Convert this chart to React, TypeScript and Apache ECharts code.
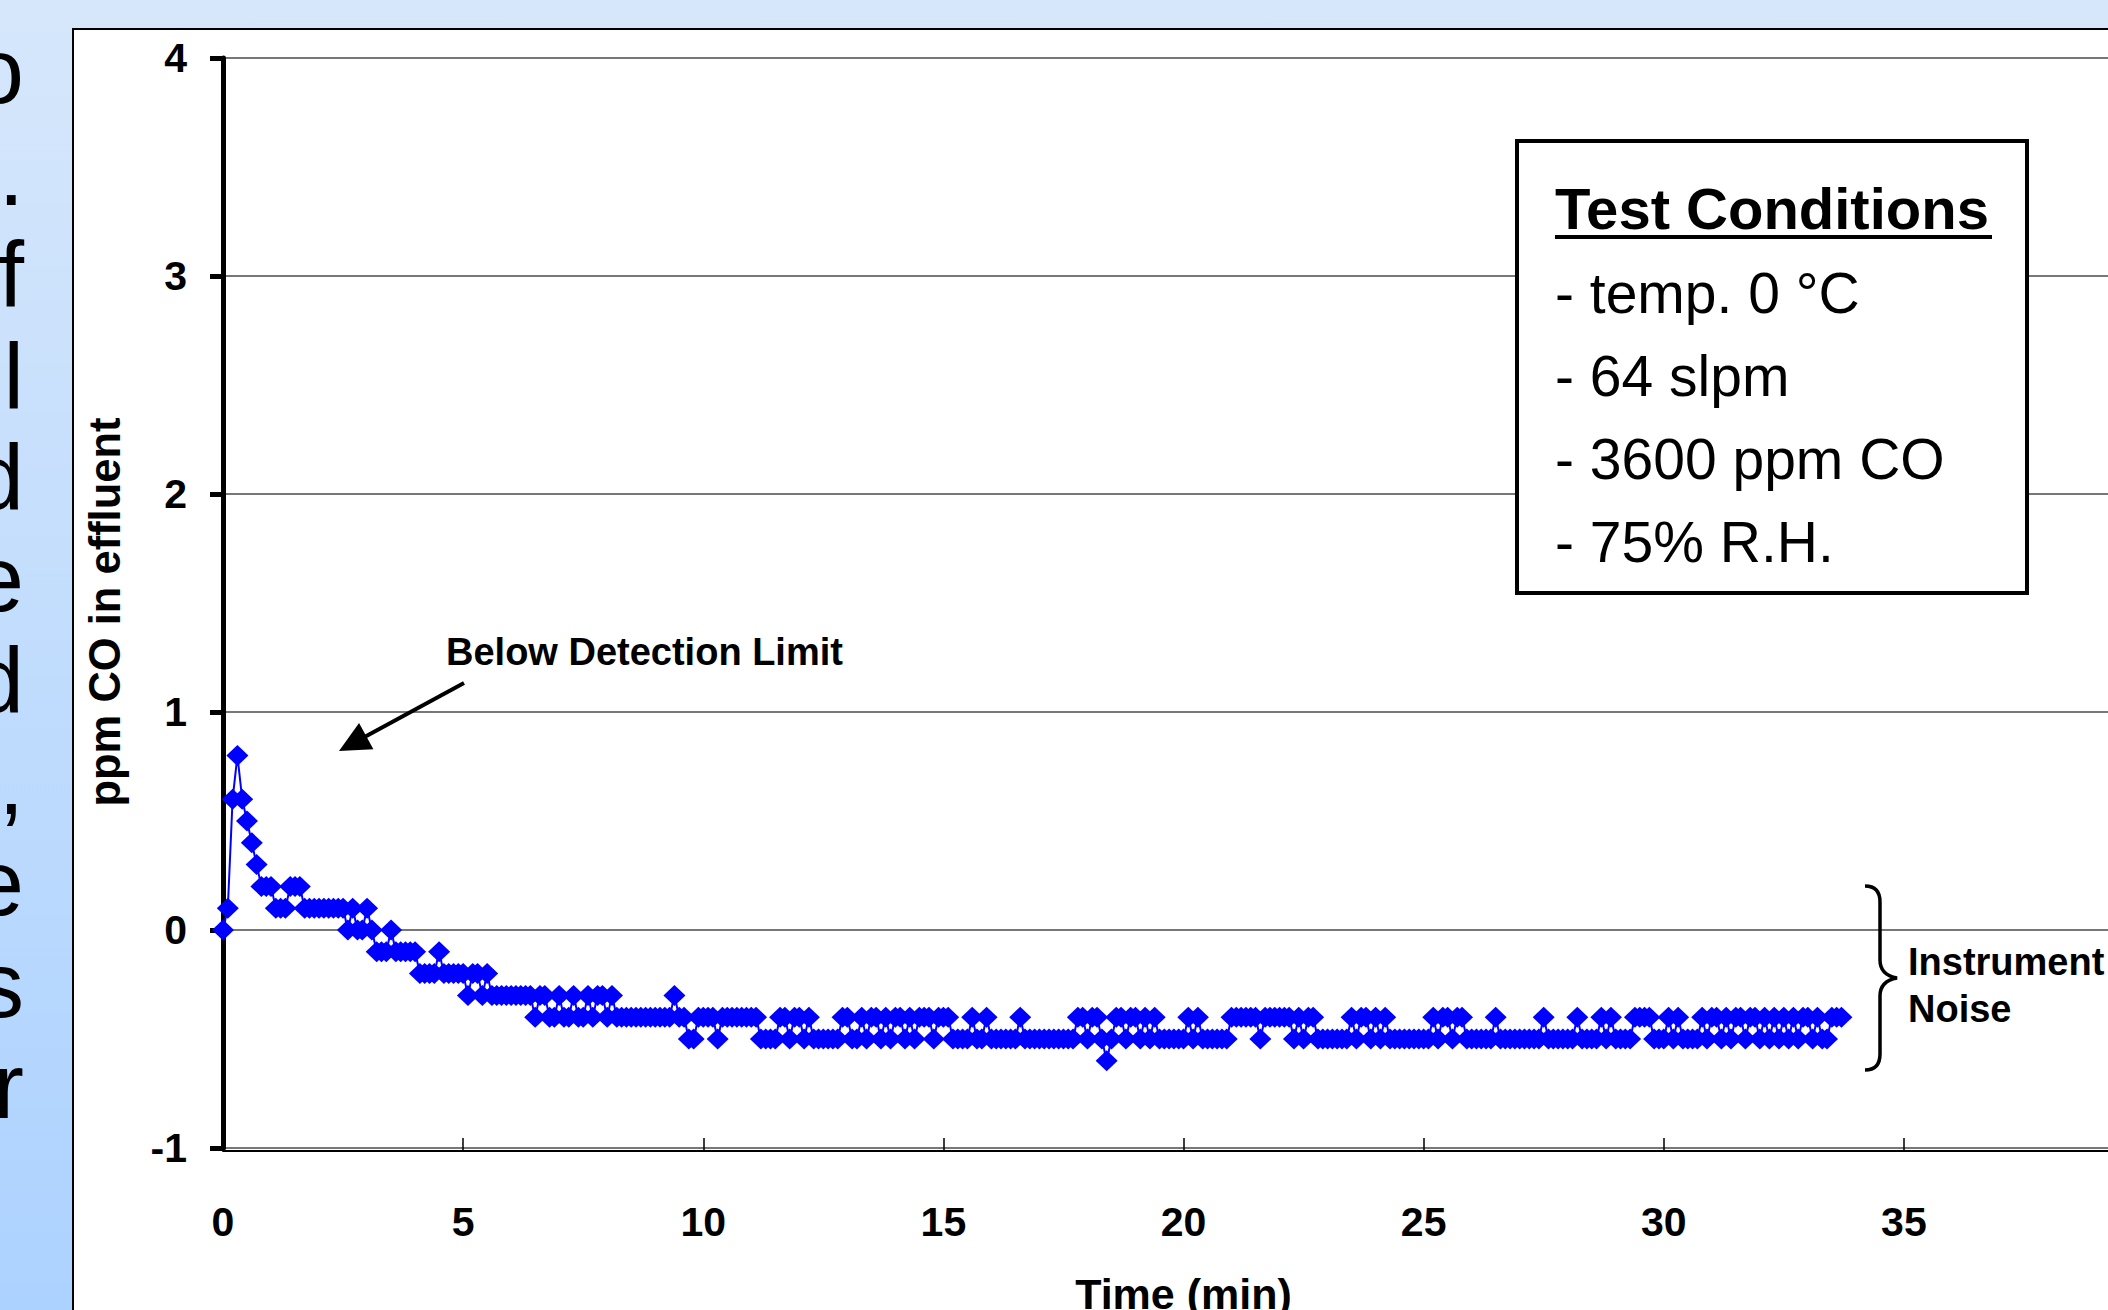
import React, { useEffect, useRef } from "react";
import * as echarts from "echarts";

// ---- data ----
const SAMPLE_INTERVAL_MIN = 0.1;
const ppmCO: number[] = [
  0, 0.1, 0.6, 0.8, 0.6, 0.5, 0.4, 0.3, 0.2, 0.2,
  0.2, 0.1, 0.1, 0.1, 0.2, 0.2, 0.2, 0.1, 0.1, 0.1,
  0.1, 0.1, 0.1, 0.1, 0.1, 0.1, 0, 0.1, 0, 0,
  0.1, 0, -0.1, -0.1, -0.1, 0, -0.1, -0.1, -0.1, -0.1,
  -0.1, -0.2, -0.2, -0.2, -0.2, -0.1, -0.2, -0.2, -0.2, -0.2,
  -0.2, -0.3, -0.2, -0.2, -0.3, -0.2, -0.3, -0.3, -0.3, -0.3,
  -0.3, -0.3, -0.3, -0.3, -0.3, -0.4, -0.3, -0.3, -0.4, -0.4,
  -0.3, -0.4, -0.4, -0.3, -0.4, -0.4, -0.3, -0.4, -0.3, -0.3,
  -0.4, -0.3, -0.4, -0.4, -0.4, -0.4, -0.4, -0.4, -0.4, -0.4,
  -0.4, -0.4, -0.4, -0.4, -0.3, -0.4, -0.4, -0.5, -0.5, -0.4,
  -0.4, -0.4, -0.4, -0.5, -0.4, -0.4, -0.4, -0.4, -0.4, -0.4,
  -0.4, -0.4, -0.5, -0.5, -0.5, -0.5, -0.4, -0.4, -0.5, -0.4,
  -0.4, -0.5, -0.4, -0.5, -0.5, -0.5, -0.5, -0.5, -0.5, -0.4,
  -0.4, -0.5, -0.5, -0.4, -0.5, -0.4, -0.4, -0.5, -0.4, -0.5,
  -0.4, -0.4, -0.5, -0.4, -0.5, -0.4, -0.4, -0.4, -0.5, -0.4,
  -0.4, -0.4, -0.5, -0.5, -0.5, -0.5, -0.4, -0.5, -0.5, -0.4,
  -0.5, -0.5, -0.5, -0.5, -0.5, -0.5, -0.4, -0.5, -0.5, -0.5,
  -0.5, -0.5, -0.5, -0.5, -0.5, -0.5, -0.5, -0.5, -0.4, -0.4,
  -0.5, -0.4, -0.4, -0.5, -0.6, -0.5, -0.4, -0.4, -0.5, -0.4,
  -0.4, -0.5, -0.4, -0.5, -0.4, -0.5, -0.5, -0.5, -0.5, -0.5,
  -0.5, -0.4, -0.5, -0.4, -0.5, -0.5, -0.5, -0.5, -0.5, -0.5,
  -0.4, -0.4, -0.4, -0.4, -0.4, -0.4, -0.5, -0.4, -0.4, -0.4,
  -0.4, -0.4, -0.4, -0.5, -0.4, -0.5, -0.4, -0.4, -0.5, -0.5,
  -0.5, -0.5, -0.5, -0.5, -0.5, -0.4, -0.5, -0.4, -0.4, -0.5,
  -0.4, -0.5, -0.4, -0.5, -0.5, -0.5, -0.5, -0.5, -0.5, -0.5,
  -0.5, -0.5, -0.4, -0.5, -0.4, -0.4, -0.5, -0.4, -0.4, -0.5,
  -0.5, -0.5, -0.5, -0.5, -0.5, -0.4, -0.5, -0.5, -0.5, -0.5,
  -0.5, -0.5, -0.5, -0.5, -0.5, -0.4, -0.5, -0.5, -0.5, -0.5,
  -0.5, -0.5, -0.4, -0.5, -0.5, -0.5, -0.5, -0.4, -0.5, -0.4,
  -0.5, -0.5, -0.5, -0.5, -0.4, -0.4, -0.4, -0.4, -0.5, -0.5,
  -0.5, -0.4, -0.5, -0.4, -0.5, -0.5, -0.5, -0.5, -0.4, -0.5,
  -0.4, -0.4, -0.5, -0.4, -0.5, -0.4, -0.4, -0.5, -0.4, -0.4,
  -0.5, -0.4, -0.5, -0.4, -0.5, -0.4, -0.5, -0.4, -0.5, -0.4,
  -0.4, -0.5, -0.4, -0.5, -0.5, -0.4, -0.4, -0.4,
];

const X_MIN = 0;
const X_MAX = 40;
const X_STEP = 5;
const Y_MIN = -1;
const Y_MAX = 4;
const Y_STEP = 1;

const xAxisTitle = "Time (min)";
const yAxisTitle = "ppm CO in effluent";
const arrowLabel = "Below Detection Limit";
const noiseLabel = ["Instrument", "Noise"];
const testConditionsTitle = "Test Conditions";
const testConditions = ["- temp. 0 °C", "- 64 slpm", "- 3600 ppm CO", "- 75% R.H."];
const slideLetters = ["o", ".", "f", "l", "d", "e", "d", ",", "e", "s", "r"];

const FONT = "'Liberation Sans', Arial, Helvetica, sans-serif";
const BRACE_D =
  "M1865,886 C1876,886 1880,892 1880,902 L1880,960 C1880,970 1886,976 1897,978 C1886,980 1880,986 1880,996 L1880,1054 C1880,1064 1876,1070 1865,1070";

const PAGE_W = 2108;
const PAGE_H = 1310;
const CHART_W = 2240;

export default function App() {
  const ref = useRef<HTMLDivElement>(null);

  useEffect(() => {
    const el = ref.current;
    if (!el) return;
    echarts.graphic.registerShape("brace", echarts.graphic.extendPath(BRACE_D, {}));
    const chart = echarts.init(el, null, { renderer: "svg" });

    const seriesData = ppmCO.map((v, i) => [
      Math.round(i * SAMPLE_INTERVAL_MIN * 1000) / 1000,
      v,
    ]);

    // arrow geometry (annotation)
    const tail = [464, 683];
    const tip = [339, 751];
    const dx = tip[0] - tail[0];
    const dy = tip[1] - tail[1];
    const len = Math.hypot(dx, dy);
    const ux = dx / len;
    const uy = dy / len;
    const headLen = 31;
    const headHalf = 15;
    const bx = tip[0] - ux * headLen;
    const by = tip[1] - uy * headLen;
    const nx = -uy;
    const ny = ux;

    const letterEls = slideLetters.map((ch, k) => ({
      type: "text",
      x: 24,
      y: 71 + k * 101.5,
      z: -15,
      silent: true,
      style: {
        text: ch,
        fill: "#000",
        fontSize: 92,
        fontFamily: FONT,
        align: "right",
        verticalAlign: "middle",
      },
    }));

    const condEls = testConditions.map((t, k) => ({
      type: "text",
      x: 1555,
      y: 293 + k * 83,
      z: 60,
      style: {
        text: t,
        fill: "#000",
        fontSize: 57,
        fontFamily: FONT,
        align: "left",
        verticalAlign: "middle",
      },
    }));

    const option: any = {
      animation: false,
      backgroundColor: "transparent",
      grid: {
        left: 223,
        top: 58,
        width: 1921,
        height: 1090,
        containLabel: false,
        outerBoundsMode: "none",
      },
      xAxis: {
        type: "value",
        min: X_MIN,
        max: X_MAX,
        interval: X_STEP,
        offset: 3,
        axisLine: { show: true, onZero: false, lineStyle: { color: "#000", width: 2 } },
        axisTick: { show: true, inside: true, length: 13, lineStyle: { color: "#000", width: 1.5 } },
        axisLabel: { margin: 50, fontSize: 41, fontWeight: "bold", color: "#000", fontFamily: FONT },
        splitLine: { show: false },
        name: xAxisTitle,
        nameLocation: "middle",
        nameGap: 121,
        nameTextStyle: { fontSize: 43, fontWeight: "bold", color: "#000", fontFamily: FONT },
      },
      yAxis: {
        type: "value",
        min: Y_MIN,
        max: Y_MAX,
        interval: Y_STEP,
        axisLine: { show: true, onZero: false, lineStyle: { color: "#000", width: 5 } },
        axisTick: { show: true, length: 13, lineStyle: { color: "#000", width: 5 } },
        axisLabel: { margin: 36, fontSize: 41, fontWeight: "bold", color: "#000", fontFamily: FONT },
        splitLine: { show: true, lineStyle: { color: "#4a4a4a", width: 1.5 } },
      },
      series: [
        {
          type: "line",
          data: seriesData,
          symbol: "diamond",
          symbolSize: [22, 21],
          showAllSymbol: true,
          z: 3,
          itemStyle: { color: "#0000ff" },
          lineStyle: { color: "#0000ff", width: 2 },
        },
      ],
      graphic: [
        {
          type: "rect",
          z: -20,
          silent: true,
          shape: { x: 0, y: 0, width: CHART_W, height: PAGE_H },
          style: {
            fill: new echarts.graphic.LinearGradient(0, 0, 0, 1, [
              { offset: 0, color: "#d6e7fb" },
              { offset: 1, color: "#acd2ff" },
            ]),
          },
        },
        ...letterEls,
        {
          type: "rect",
          z: -10,
          silent: true,
          shape: { x: 73, y: 29, width: 2300, height: 1400 },
          style: { fill: "#ffffff", stroke: "#000", lineWidth: 2 },
        },
        {
          type: "text",
          x: 105,
          y: 612,
          z: 60,
          rotation: Math.PI / 2,
          style: {
            text: yAxisTitle,
            fill: "#000",
            fontSize: 43.5,
            fontWeight: "bold",
            fontFamily: FONT,
            align: "center",
            verticalAlign: "middle",
          },
        },
        {
          type: "rect",
          z: 50,
          shape: { x: 1517, y: 141, width: 510, height: 452 },
          style: { fill: "#ffffff", stroke: "#000", lineWidth: 4 },
        },
        {
          type: "text",
          x: 1555,
          y: 208,
          z: 60,
          style: {
            text: testConditionsTitle,
            fill: "#000",
            fontSize: 58,
            fontWeight: "bold",
            fontFamily: FONT,
            align: "left",
            verticalAlign: "middle",
          },
        },
        {
          type: "line",
          z: 60,
          shape: { x1: 1555, y1: 237, x2: 1992, y2: 237 },
          style: { stroke: "#000", lineWidth: 4 },
        },
        ...condEls,
        {
          type: "text",
          x: 446,
          y: 652,
          z: 60,
          style: {
            text: arrowLabel,
            fill: "#000",
            fontSize: 38,
            fontWeight: "bold",
            fontFamily: FONT,
            align: "left",
            verticalAlign: "middle",
          },
        },
        {
          type: "line",
          z: 60,
          shape: { x1: tail[0], y1: tail[1], x2: bx + ux * 4, y2: by + uy * 4 },
          style: { stroke: "#000", lineWidth: 4 },
        },
        {
          type: "polygon",
          z: 60,
          shape: {
            points: [
              [tip[0], tip[1]],
              [bx + nx * headHalf, by + ny * headHalf],
              [bx - nx * headHalf, by - ny * headHalf],
            ],
          },
          style: { fill: "#000" },
        },
        {
          type: "brace",
          x: 0,
          y: 0,
          z: 60,
          style: { stroke: "#000", lineWidth: 3.5, fill: "none" },
        },
        {
          type: "text",
          x: 1908,
          y: 962,
          z: 60,
          style: {
            text: noiseLabel[0],
            fill: "#000",
            fontSize: 38,
            fontWeight: "bold",
            fontFamily: FONT,
            align: "left",
            verticalAlign: "middle",
          },
        },
        {
          type: "text",
          x: 1908,
          y: 1009,
          z: 60,
          style: {
            text: noiseLabel[1],
            fill: "#000",
            fontSize: 38,
            fontWeight: "bold",
            fontFamily: FONT,
            align: "left",
            verticalAlign: "middle",
          },
        },
      ],
    };

    chart.setOption(option);
    return () => {
      chart.dispose();
    };
  }, []);

  return (
    <div
      style={{
        position: "absolute",
        left: 0,
        top: 0,
        width: PAGE_W,
        height: PAGE_H,
        overflow: "hidden",
      }}
    >
      <div ref={ref} style={{ width: CHART_W, height: PAGE_H }} />
    </div>
  );
}
